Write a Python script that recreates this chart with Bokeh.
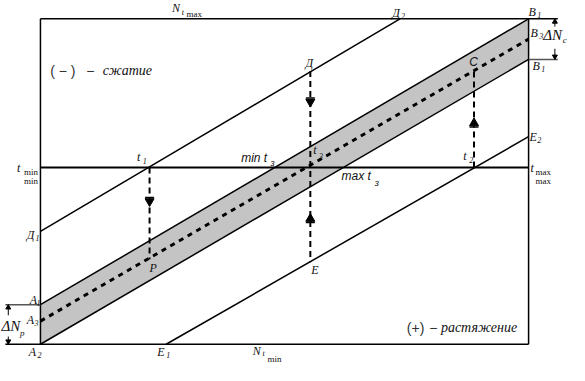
from bokeh.plotting import figure
from bokeh.models import Range1d
from bokeh.core.properties import value
from bokeh.embed import file_html
from bokeh.resources import INLINE

# ---- geometry of the schematic (reference pixel coordinates) ----
box_left, box_right, box_top, box_bottom = 41, 542, 19, 356
t_level = 173                                  # horizontal line t_min .. t_max

band_upper_x = [41, 542]; band_upper_y = [315, 19]    # A1 -> B1
band_lower_x = [41, 542]; band_lower_y = [356, 61]    # A2 -> B1
band_mid_x = [41, 542];   band_mid_y = [332, 40]      # A3 -> B3
d_line_x = [41, 410];     d_line_y = [239, 19]        # Д1 -> Д2
e_line_x = [170, 542];    e_line_y = [356, 141]       # E1 -> E2

# dashed verticals: x, y_from, y_to
vert_x = [153, 318, 486]
vert_y0 = [173, 73, 173]
vert_y1 = [268, 271, 72]

# arrow heads on the verticals
arrow_down_x = [153, 318]; arrow_down_y = [208, 105]
arrow_up_x = [318, 486];   arrow_up_y = [226, 127]

# ---- labels ----
lab_text = ["N", "Д", "B", "B", "B", "Д", "t", "t", "t", "E", "t", "t", "Д",
            "P", "E", "A", "A", "A", "E", "N"]
lab_x = [176, 402, 542, 544, 546, 313, 140, 475, 321, 543, 544, 17, 27,
         153, 319, 30, 27, 29, 161, 259]
lab_y = [8, 13, 12, 34, 68, 65, 162, 161, 155, 141, 173, 173, 243,
         277, 279, 310, 331, 364, 364, 363]
sub_text = ["t", "2", "1", "3", "1", "1", "2", "3", "2", "1", "1", "3", "2", "1", "t"]
sub_x = [186, 411, 551, 553, 555, 146, 481, 327, 551, 36, 37, 35, 38, 170, 269]
sub_y = [12, 16, 15, 37, 71, 166, 165, 161, 144, 246, 313, 334, 367, 367, 366]
small_text = ["max", "max", "max", "min", "min", "min"]
small_x = [191, 549, 549, 24, 24, 274]
small_y = [14, 178, 187, 178, 187, 371]

big_text = ["ΔN", "ΔN"]
big_x = [557, 1]
big_y = [36, 337]
big_sub_text = ["c", "p"]
big_sub_x = [577, 20]
big_sub_y = [41, 344]

sans_text = ["min t", "max t", "C"]
sans_x = [247, 350, 481]
sans_y = [163, 182, 64]
sans_sub_text = ["з", "з"]
sans_sub_x = [277, 384]
sans_sub_y = [168, 189]

sign_text = ["( − )", "−", "(+)", "−"]
sign_x = [51, 88, 417, 440]
sign_y = [73, 73, 339, 339]
word_text = ["сжатие", "растяжение"]
word_x = [105, 452]
word_y = [73, 339]

W, H = 569, 365
p = figure(width=W, height=H, output_backend="svg", toolbar_location=None,
           x_range=Range1d(0, 584), y_range=Range1d(378, 0),
           min_border=0, outline_line_color=None)
p.axis.visible = False
p.grid.visible = False
p.background_fill_color = "white"
p.border_fill_color = "white"

# shaded band
p.patch(x=band_upper_x + band_lower_x[::-1], y=band_upper_y + band_lower_y[::-1],
        fill_color="#c4c4c4", line_color=None)

# box and reference lines
p.segment(x0=[box_left, 5, box_left, box_right],
          y0=[box_top, box_bottom, box_top, box_top],
          x1=[box_right + 30, box_right, box_left, box_right],
          y1=[box_top, box_bottom, box_bottom, box_bottom],
          line_color="black", line_width=1.5)
p.segment(x0=[5, box_right], y0=[band_upper_y[0], band_lower_y[1]],
          x1=[box_left, box_right + 30], y1=[band_upper_y[0], band_lower_y[1]],
          line_color="#555555", line_width=1.5)
p.segment(x0=[box_left], y0=[t_level], x1=[box_right], y1=[t_level], line_color="black", line_width=2)

for xs, ys in [(band_upper_x, band_upper_y), (band_lower_x, band_lower_y),
               (d_line_x, d_line_y), (e_line_x, e_line_y)]:
    p.line(xs, ys, line_color="black", line_width=1.5)
p.line(band_mid_x, band_mid_y, line_color="black", line_width=3, line_dash="5 5")

p.segment(x0=vert_x, y0=vert_y0, x1=vert_x, y1=vert_y1, line_color="black",
          line_width=2, line_dash="6 4")
p.scatter(arrow_down_x, arrow_down_y, marker="inverted_triangle", size=9, color="black")
p.scatter(arrow_up_x, arrow_up_y, marker="triangle", size=9, color="black")
p.scatter(arrow_down_x + arrow_up_x,
          [y - 4 for y in arrow_down_y] + [y + 4 for y in arrow_up_y],
          marker="dash", size=9, color="black", line_width=1.5)

# ΔN arrows
p.segment(x0=[569, 569, 8, 8], y0=[19, 50, 315, 348], x1=[569, 569, 8, 8], y1=[27, 61, 326, 356],
          line_color="black", line_width=1)
p.scatter([569, 8], [22, 318], marker="triangle", size=5, color="black")
p.scatter([569, 8], [58, 353], marker="inverted_triangle", size=5, color="black")

serif = value("Liberation Serif")
sans = value("Liberation Sans")
common = dict(text_baseline="middle", text_align="left", text_color="#111111")
p.text(lab_x, lab_y, text=lab_text, text_font=serif, text_font_style="italic",
       text_font_size="12px", **common)
p.text(sub_x, sub_y, text=sub_text, text_font=serif, text_font_style="italic",
       text_font_size="8px", **common)
p.text(small_x, small_y, text=small_text, text_font=serif, text_font_size="9px", **common)
p.text(big_x, big_y, text=big_text, text_font=serif, text_font_style="italic",
       text_font_size="15px", **common)
p.text(big_sub_x, big_sub_y, text=big_sub_text, text_font=serif, text_font_style="italic",
       text_font_size="9px", **common)
p.text(sans_x, sans_y, text=sans_text, text_font=sans, text_font_style="italic",
       text_font_size="12px", **common)
p.text(sans_sub_x, sans_sub_y, text=sans_sub_text, text_font=sans, text_font_style="italic",
       text_font_size="9px", **common)
p.text(sign_x, sign_y, text=sign_text, text_font=sans, text_font_size="14px",
       text_baseline="middle", text_align="left", text_color="#333333")
p.text(word_x, word_y, text=word_text, text_font=serif, text_font_style="italic",
       text_font_size="14px", **common)

open("out.html", "w").write(file_html(p, INLINE))
